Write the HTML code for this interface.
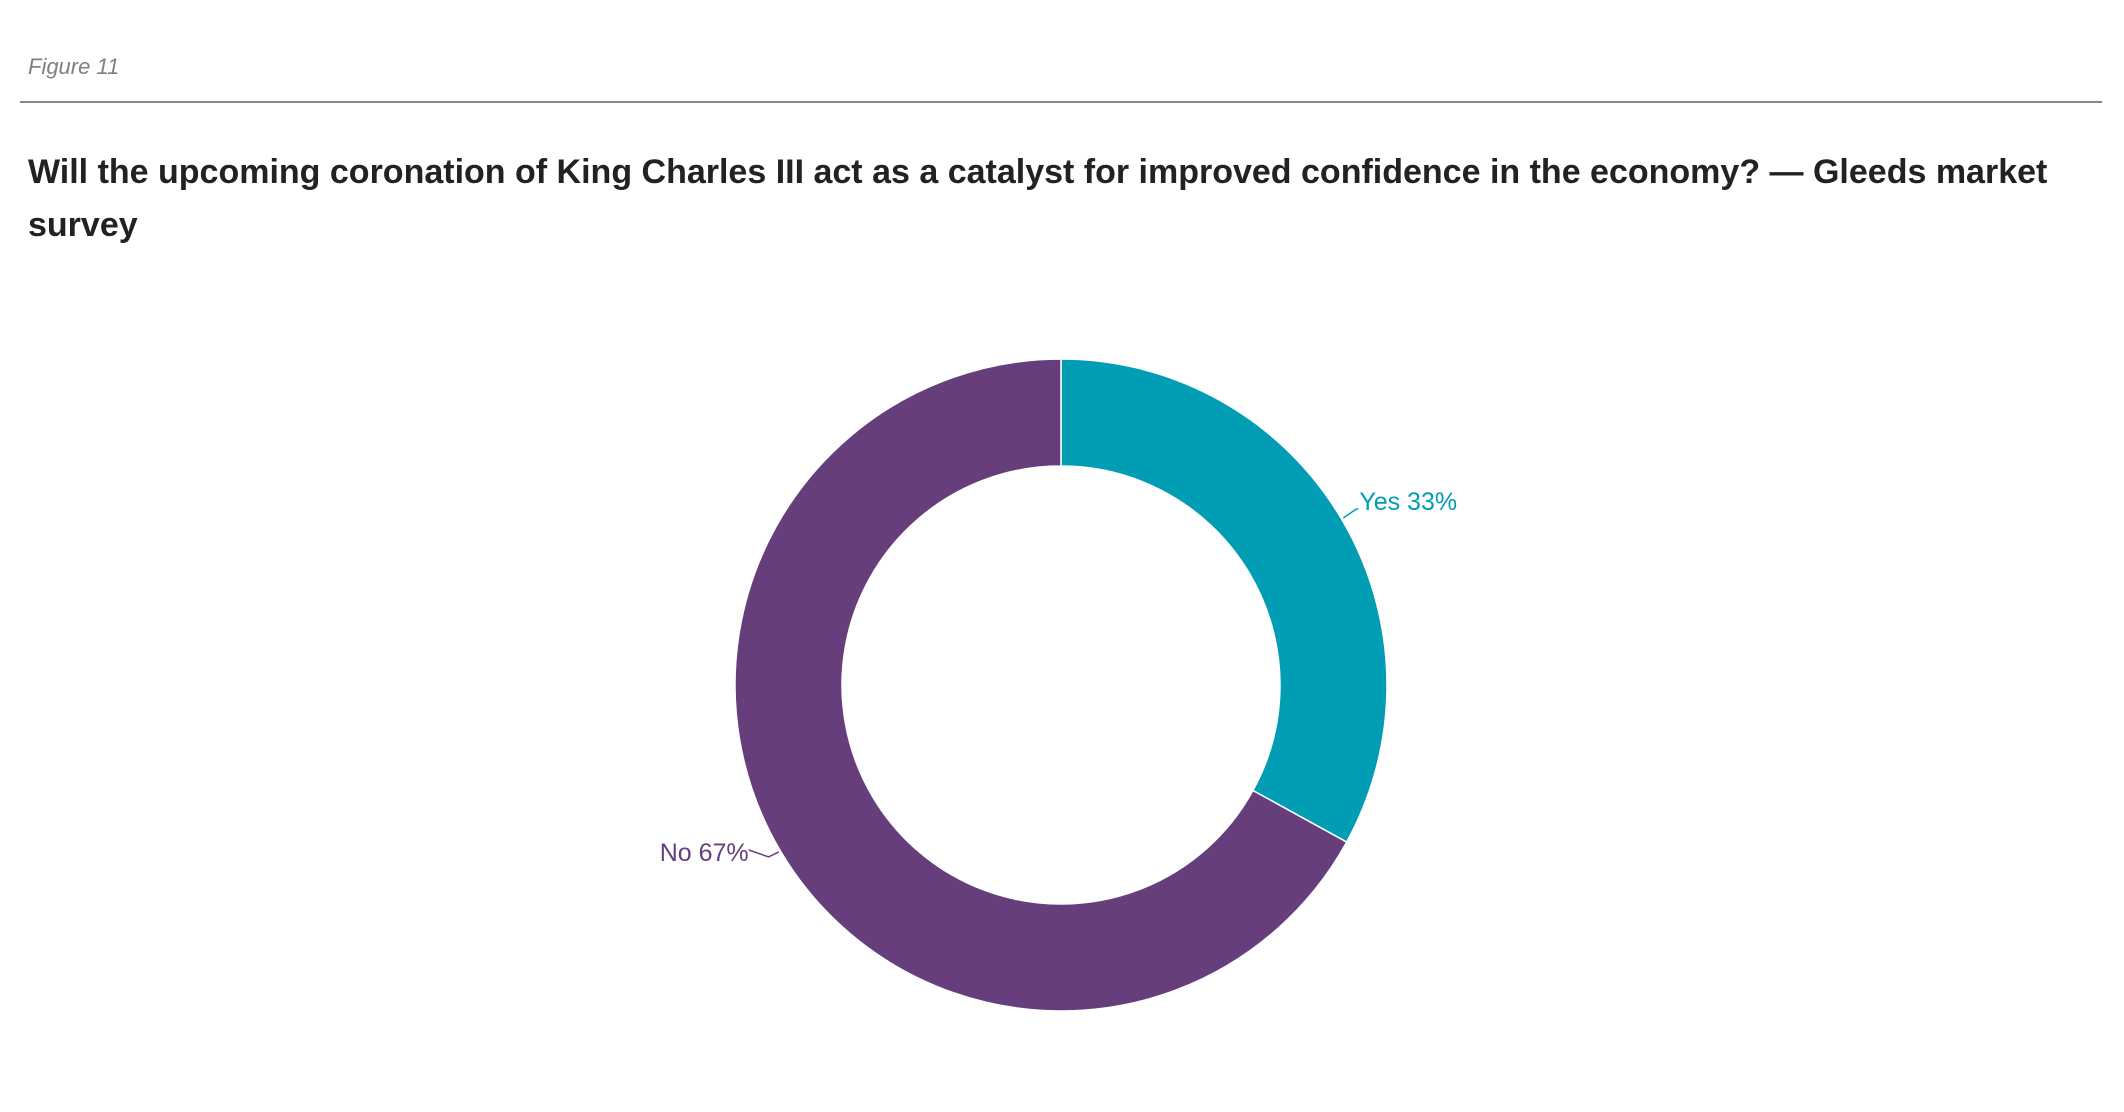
<!DOCTYPE html>
<html><head><meta charset="utf-8"><style>
html,body{margin:0;padding:0;background:#fff;width:2124px;height:1112px;overflow:hidden;font-family:"Liberation Sans",sans-serif}
</style></head><body>
<svg width="2124" height="1112">
<text x="28" y="74" font-size="22" font-style="italic" fill="#808080">Figure 11</text>
<line x1="20" y1="102" x2="2102" y2="102" stroke="#888" stroke-width="2"/>
<text font-size="34" font-weight="bold" fill="#222"><tspan x="28" y="183">Will the upcoming coronation of King Charles III act as a catalyst for improved confidence in the economy? — Gleeds market</tspan><tspan x="28" y="236">survey</tspan></text>
<g id="donut"></g>
</svg>
<script>
const categories=["Yes","No"];
const values=[33,67];
const colors=["#009db4","#663e7c"];
const cx=1061,cy=685,R=326,r=219;
const g=document.getElementById('donut');
const ns='http://www.w3.org/2000/svg';
const total=values.reduce((a,b)=>a+b,0);
function pt(rad,a){return [cx+rad*Math.sin(a),cy-rad*Math.cos(a)];}
let a0=0;
values.forEach((v,i)=>{
  const a1=a0+v/total*2*Math.PI;
  const large=(a1-a0)>Math.PI?1:0;
  const [x0,y0]=pt(R,a0),[x1,y1]=pt(R,a1),[x2,y2]=pt(r,a1),[x3,y3]=pt(r,a0);
  const p=document.createElementNS(ns,'path');
  p.setAttribute('d',`M${x0},${y0}A${R},${R} 0 ${large} 1 ${x1},${y1}L${x2},${y2}A${r},${r} 0 ${large} 0 ${x3},${y3}Z`);
  p.setAttribute('fill',colors[i]);p.setAttribute('stroke','#fff');p.setAttribute('stroke-width','1.5');
  
  
  g.appendChild(p);
  const am=(a0+a1)/2;
  const right=Math.sin(am)>0;
  const [lx0,ly0]=pt(R+2,am);
  let lx1,ly1,lx2,ly2;
  if(right){lx1=lx0+13;ly1=ly0-9;lx2=lx1+2;ly2=ly1;}
  else{lx1=lx0-10;ly1=ly0+5;lx2=lx1-20;ly2=ly1-7;}
  const l=document.createElementNS(ns,'polyline');
  l.setAttribute('points',`${lx0},${ly0} ${lx1},${ly1} ${lx2},${ly2}`);
  l.setAttribute('fill','none');l.setAttribute('stroke',colors[i]);l.setAttribute('stroke-width','1.5');
  
  
  g.appendChild(l);
  const t=document.createElementNS(ns,'text');
  t.setAttribute('x',right?lx2+1:lx2);t.setAttribute('y',right?ly2+1:ly2+11);
  t.setAttribute('text-anchor',right?'start':'end');
  t.setAttribute('font-size','25');t.setAttribute('fill',colors[i]);
  t.textContent=categories[i]+' '+v+'%';
  
  
  g.appendChild(t);
  a0=a1;
});
</script>
</body></html>
